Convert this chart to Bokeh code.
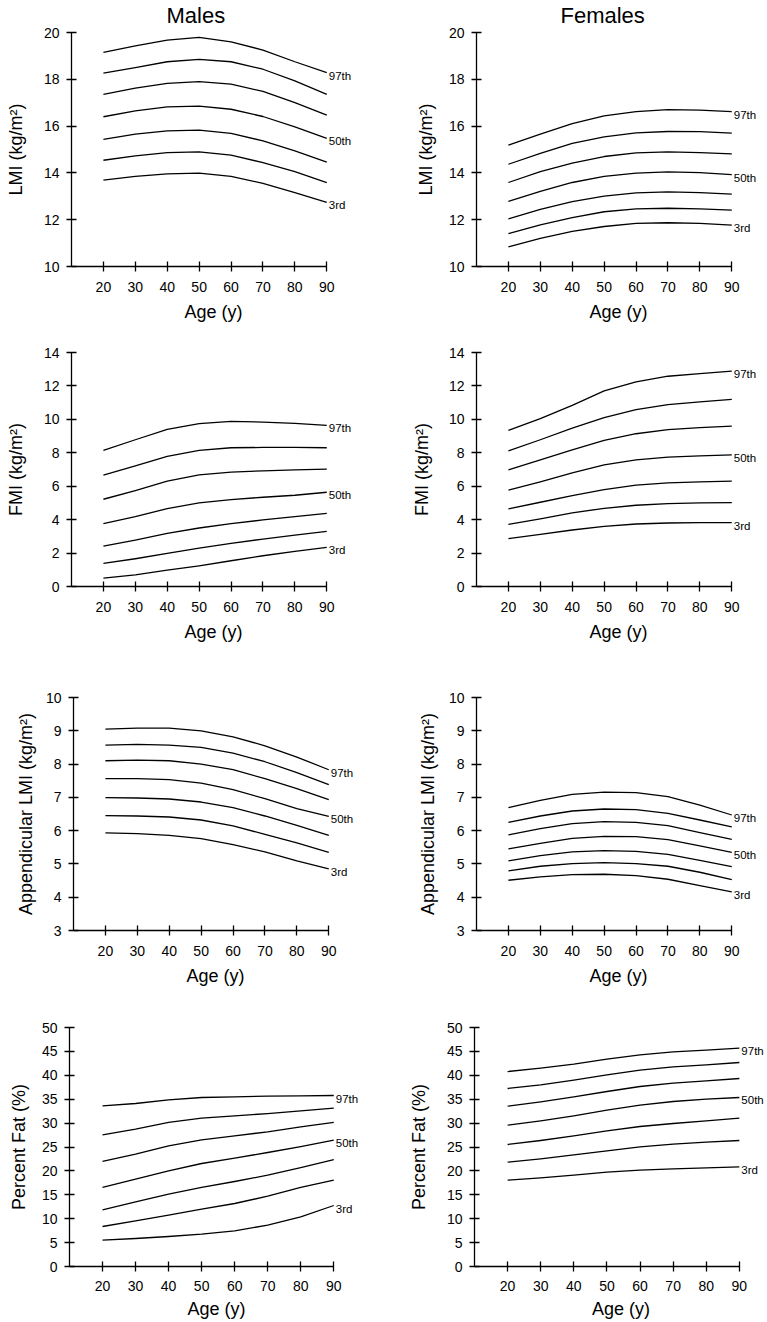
from bokeh.plotting import figure
from bokeh.layouts import column, row
from bokeh.models import Range1d, FixedTicker, Label
from bokeh.embed import file_html
from bokeh.resources import INLINE

FONT = "Liberation Sans"

ages = [20, 30, 40, 50, 60, 70, 80, 90]
age_ticks = [20, 30, 40, 50, 60, 70, 80, 90]
percentiles = ["3rd", "10th", "25th", "50th", "75th", "90th", "97th"]
labelled = ["3rd", "50th", "97th"]

# values per percentile (3rd ... 97th), read at ages 20..90
male_lmi = [
    [13.69, 13.85, 13.96, 13.99, 13.85, 13.55, 13.16, 12.74],
    [14.54, 14.73, 14.87, 14.90, 14.76, 14.44, 14.05, 13.58],
    [15.43, 15.66, 15.80, 15.83, 15.69, 15.37, 14.94, 14.46],
    [16.40, 16.65, 16.82, 16.85, 16.72, 16.41, 15.97, 15.48],
    [17.36, 17.62, 17.83, 17.90, 17.79, 17.48, 17.00, 16.47],
    [18.26, 18.50, 18.75, 18.85, 18.75, 18.43, 17.93, 17.36],
    [19.15, 19.43, 19.67, 19.79, 19.60, 19.25, 18.75, 18.29],
]
female_lmi = [
    [10.84, 11.20, 11.50, 11.71, 11.84, 11.87, 11.84, 11.77],
    [11.41, 11.78, 12.09, 12.34, 12.46, 12.49, 12.46, 12.41],
    [12.04, 12.44, 12.77, 13.01, 13.15, 13.19, 13.16, 13.09],
    [12.78, 13.21, 13.59, 13.85, 13.99, 14.04, 14.01, 13.93],
    [13.59, 14.05, 14.42, 14.70, 14.86, 14.90, 14.87, 14.81],
    [14.37, 14.83, 15.26, 15.54, 15.71, 15.77, 15.76, 15.70],
    [15.19, 15.66, 16.11, 16.44, 16.62, 16.70, 16.68, 16.62],
]
male_fmi = [
    [0.50, 0.70, 0.98, 1.24, 1.54, 1.84, 2.10, 2.34],
    [1.38, 1.66, 1.98, 2.30, 2.58, 2.84, 3.08, 3.30],
    [2.42, 2.78, 3.18, 3.50, 3.76, 3.98, 4.18, 4.38],
    [3.76, 4.18, 4.66, 5.00, 5.20, 5.34, 5.46, 5.64],
    [5.22, 5.74, 6.30, 6.68, 6.84, 6.92, 6.98, 7.02],
    [6.66, 7.22, 7.78, 8.14, 8.30, 8.32, 8.32, 8.30],
    [8.14, 8.78, 9.40, 9.74, 9.88, 9.84, 9.76, 9.64],
]
female_fmi = [
    [2.86, 3.12, 3.38, 3.60, 3.74, 3.80, 3.82, 3.82],
    [3.72, 4.04, 4.40, 4.68, 4.86, 4.96, 5.00, 5.02],
    [4.64, 5.04, 5.44, 5.80, 6.06, 6.20, 6.26, 6.30],
    [5.76, 6.26, 6.80, 7.28, 7.58, 7.74, 7.82, 7.88],
    [6.98, 7.58, 8.18, 8.74, 9.14, 9.38, 9.50, 9.60],
    [8.12, 8.78, 9.48, 10.10, 10.58, 10.88, 11.04, 11.20],
    [9.34, 10.04, 10.84, 11.70, 12.24, 12.58, 12.74, 12.88],
]
male_almi = [
    [5.93, 5.91, 5.86, 5.76, 5.58, 5.36, 5.09, 4.85],
    [6.45, 6.44, 6.41, 6.32, 6.14, 5.89, 5.63, 5.35],
    [6.99, 6.98, 6.95, 6.86, 6.69, 6.44, 6.16, 5.86],
    [7.56, 7.56, 7.53, 7.43, 7.23, 6.96, 6.66, 6.43],
    [8.10, 8.12, 8.10, 8.00, 7.83, 7.56, 7.26, 6.93],
    [8.57, 8.59, 8.57, 8.50, 8.33, 8.07, 7.74, 7.38],
    [9.05, 9.08, 9.08, 9.00, 8.82, 8.55, 8.21, 7.83],
]
female_almi = [
    [4.51, 4.61, 4.68, 4.69, 4.65, 4.54, 4.35, 4.16],
    [4.79, 4.93, 5.01, 5.04, 5.01, 4.93, 4.75, 4.53],
    [5.09, 5.25, 5.36, 5.40, 5.38, 5.29, 5.11, 4.92],
    [5.45, 5.62, 5.77, 5.83, 5.82, 5.73, 5.54, 5.35],
    [5.87, 6.06, 6.21, 6.27, 6.25, 6.15, 5.94, 5.74],
    [6.25, 6.44, 6.59, 6.65, 6.63, 6.52, 6.32, 6.11],
    [6.69, 6.91, 7.09, 7.16, 7.14, 7.02, 6.77, 6.47],
]
male_pfat = [
    [5.51, 5.86, 6.28, 6.76, 7.46, 8.65, 10.39, 12.76],
    [8.37, 9.55, 10.74, 11.99, 13.18, 14.71, 16.53, 18.06],
    [11.85, 13.53, 15.13, 16.53, 17.78, 19.10, 20.70, 22.38],
    [16.53, 18.27, 20.01, 21.55, 22.66, 23.85, 25.10, 26.43],
    [21.97, 23.50, 25.24, 26.50, 27.34, 28.17, 29.20, 30.13],
    [27.55, 28.73, 30.13, 31.03, 31.52, 32.00, 32.57, 33.12],
    [33.60, 34.10, 34.87, 35.36, 35.50, 35.63, 35.70, 35.77],
]
female_pfat = [
    [18.06, 18.55, 19.11, 19.73, 20.15, 20.43, 20.64, 20.85],
    [21.83, 22.52, 23.36, 24.20, 25.03, 25.59, 26.01, 26.36],
    [25.52, 26.36, 27.34, 28.38, 29.29, 29.92, 30.47, 31.03],
    [29.57, 30.47, 31.52, 32.71, 33.75, 34.52, 35.01, 35.36],
    [33.54, 34.45, 35.50, 36.61, 37.66, 38.35, 38.84, 39.33],
    [37.24, 38.01, 38.98, 40.10, 41.07, 41.77, 42.19, 42.68],
    [40.79, 41.49, 42.33, 43.37, 44.28, 44.91, 45.26, 45.68],
]

lmi_ticks = [10, 12, 14, 16, 18, 20]
fmi_ticks = [0, 2, 4, 6, 8, 10, 12, 14]
almi_ticks = [3, 4, 5, 6, 7, 8, 9, 10]
pfat_ticks = [0, 5, 10, 15, 20, 25, 30, 35, 40, 45, 50]

LMI_LABEL = "LMI (kg/m\u00b2)"
FMI_LABEL = "FMI (kg/m\u00b2)"
ALMI_LABEL = "Appendicular LMI (kg/m\u00b2)"
PFAT_LABEL = "Percent Fat (%)"
X_LABEL = "Age (y)"
X_MIN = 10


def panel(series, yticks, ylabel, W, H, bl, br, bt, bb, als_y, x_max,
          title=None, title_offset=0, x_std=10, x_als=7):
    p = figure(width=W, height=H, x_range=Range1d(X_MIN, x_max),
               y_range=Range1d(yticks[0], yticks[-1]),
               output_backend="svg", toolbar_location=None,
               min_border_left=bl, min_border_right=br,
               min_border_top=bt, min_border_bottom=bb)
    p.grid.visible = False
    p.outline_line_color = None
    p.background_fill_color = "white"
    p.border_fill_color = "white"

    p.xaxis.ticker = FixedTicker(ticks=age_ticks)
    p.xaxis.bounds = (X_MIN, age_ticks[-1])
    p.yaxis.ticker = FixedTicker(ticks=yticks)
    for ax in (p.xaxis, p.yaxis):
        ax.axis_line_color = "black"
        ax.axis_line_width = 1.3
        ax.major_tick_line_color = "black"
        ax.major_tick_line_width = 1.3
        ax.major_tick_in = 5
        ax.major_tick_out = 5
        ax.minor_tick_line_color = None
        ax.major_label_text_font = FONT
        ax.major_label_text_font_size = "14px"
        ax.major_label_text_color = "black"
        ax.axis_label_text_font = FONT
        ax.axis_label_text_font_size = "18px"
        ax.axis_label_text_font_style = "normal"
        ax.axis_label_text_color = "black"
    p.xaxis.major_label_standoff = x_std
    p.yaxis.major_label_standoff = 7
    p.xaxis.axis_label = X_LABEL
    p.yaxis.axis_label = ylabel
    p.xaxis.axis_label_standoff = x_als
    p.yaxis.axis_label_standoff = als_y

    for name, vals in zip(percentiles, series):
        p.line(ages, vals, line_color="black", line_width=1.3, line_join="round")
        if name in labelled:
            p.add_layout(Label(x=ages[-1], y=vals[-1], text=name, x_offset=2,
                               y_offset=-3, text_baseline="middle",
                               text_align="left", text_font=FONT,
                               text_font_size="11.5px", text_color="black"))
    if title:
        p.title.text = title
        p.title.align = "left"
        p.title.vertical_align = "top"
        p.title.offset = title_offset
        p.title.standoff = 5
        p.title.text_font = FONT
        p.title.text_font_size = "22px"
        p.title.text_font_style = "normal"
        p.title.text_color = "black"
    return p


W1, W2 = 384, 383
p1 = panel(male_lmi, lmi_ticks, LMI_LABEL, W1, 330, 71, 29, 32, 64, 15, 99,
           title="Males", title_offset=95)
p2 = panel(female_lmi, lmi_ticks, LMI_LABEL, W2, 330, 92, 7, 32, 64, 10, 99,
           title="Females", title_offset=84)
p3 = panel(male_fmi, fmi_ticks, FMI_LABEL, W1, 330, 71, 29, 22, 74, 15, 99)
p4 = panel(female_fmi, fmi_ticks, FMI_LABEL, W2, 330, 92, 7, 22, 74, 14, 99)
p5 = panel(male_almi, almi_ticks, ALMI_LABEL, W1, 330, 73, 27, 37, 59, 7, 99)
p6 = panel(female_almi, almi_ticks, ALMI_LABEL, W2, 330, 92, 7, 36, 60, 8, 99)
p7 = panel(male_pfat, pfat_ticks, PFAT_LABEL, W1, 332, 69, 21, 37, 56, 10, 99,
           x_std=9, x_als=5)
p8 = panel(female_pfat, pfat_ticks, PFAT_LABEL, W2, 332, 90, 0, 37, 56, 15, 98.5,
           x_std=9, x_als=5)

layout = column(row(p1, p2), row(p3, p4), row(p5, p6), row(p7, p8))

open("out.html", "w").write(file_html(layout, INLINE))
